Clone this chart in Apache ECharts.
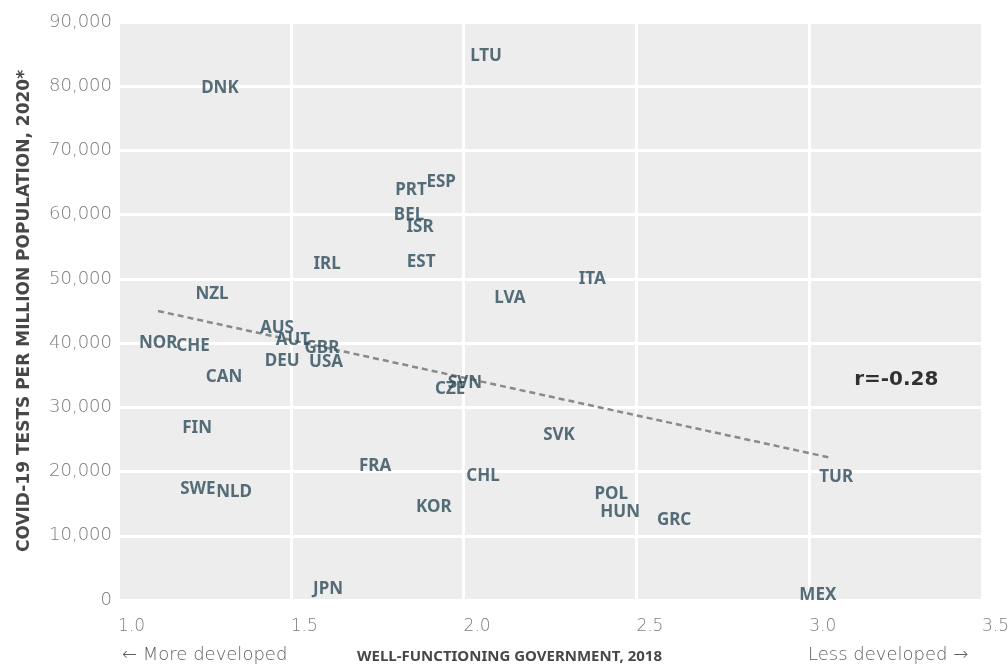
<!DOCTYPE html>
<html>
<head>
<meta charset="utf-8">
<script src="https://cdn.jsdelivr.net/npm/echarts@6/dist/echarts.min.js"></script>
<style>
    html, body { margin: 0; padding: 0; background: #fff; }
    #chart { width: 1008px; height: 666px; }
</style>
</head>
<body>
<div id="chart"></div>
<script>
// country codes and their values (x: government score, y: tests per million)
const countries = ['LTU', 'DNK', 'PRT', 'ESP', 'BEL', 'ISR', 'EST', 'IRL', 'ITA', 'NZL', 'LVA',
    'AUS', 'AUT', 'GBR', 'NOR', 'CHE', 'DEU', 'USA', 'CAN', 'SVN', 'CZE', 'FIN', 'SVK',
    'FRA', 'CHL', 'TUR', 'SWE', 'NLD', 'POL', 'HUN', 'KOR', 'GRC', 'JPN', 'MEX'];
const govScore = [2.065, 1.295, 1.848, 1.935, 1.842, 1.874, 1.877, 1.605, 2.372, 1.272, 2.134,
    1.460, 1.506, 1.590, 1.116, 1.217, 1.475, 1.602, 1.307, 2.004, 1.961, 1.229, 2.276,
    1.744, 2.056, 3.078, 1.231, 1.336, 2.427, 2.453, 1.914, 2.609, 1.608, 3.025];
const testsPerMillion = [84700, 79700, 63800, 65100, 59900, 58100, 52600, 52300, 50000, 47600, 47000,
    42300, 40500, 39200, 40000, 39500, 37200, 37000, 34700, 33800, 32900, 26800, 25700,
    20900, 19300, 19100, 17300, 16800, 16500, 13700, 14500, 12500, 1700, 800];

// fitted trend line end points
const trendX = [1.116, 3.066];
const trendY = [45000, 22100];

const correlationLabel = 'r=-0.28';
const correlationPos = [3.252, 34300];

const xTitle = 'WELL-FUNCTIONING GOVERNMENT, 2018';
const yTitle = 'COVID-19 TESTS PER MILLION POPULATION, 2020*';
const leftNote = '\u2190 More developed';
const rightNote = 'Less developed \u2192';

const labelColor = '#2d4b5a';
const tickColor = '#7c7c7c';
const font = 'Noto Sans';
const wideFont = 'DejaVu Sans';

const chart = echarts.init(document.getElementById('chart'));

chart.setOption({
    animation: false,
    textStyle: {fontFamily: font},
    grid: {
        left: 118, right: 26, top: 22, bottom: 66,
        outerBoundsMode: 'none', containLabel: false,
        show: true, backgroundColor: '#ecedec', borderWidth: 0
    },
    xAxis: {
        type: 'value', min: 1, max: 3.5, interval: 0.5,
        axisLine: {show: false}, axisTick: {show: false},
        splitLine: {lineStyle: {color: '#fff', width: 3}},
        axisLabel: {
            color: tickColor, fontSize: 17, fontWeight: 300, fontFamily: wideFont,
            margin: 18, align: 'left',
            formatter: v => v.toFixed(1)
        }
    },
    yAxis: {
        type: 'value', min: 0, max: 90000, interval: 10000,
        axisLine: {show: false}, axisTick: {show: false},
        splitLine: {lineStyle: {color: '#fff', width: 3}},
        axisLabel: {
            color: tickColor, fontSize: 18, fontWeight: 300, fontFamily: wideFont, margin: 6,
            formatter: v => v.toLocaleString('en-US')
        },
        name: yTitle, nameLocation: 'middle', nameGap: 85,
        nameTextStyle: {color: '#474747', fontSize: 17, fontWeight: 'bold', fontFamily: wideFont}
    },
    series: [
        {
            type: 'line',
            data: trendX.map((x, i) => [x, trendY[i]]),
            symbol: 'none',
            lineStyle: {color: '#8a8a8a', width: 2.5, type: [6, 4]},
            z: 2
        },
        {
            type: 'scatter',
            symbolSize: 0,
            data: countries.map((c, i) => ({name: c, value: [govScore[i], testsPerMillion[i]]})),
            label: {
                show: true, position: 'inside', formatter: '{b}',
                color: labelColor, fontSize: 17, fontWeight: 'bold', fontFamily: font
            },
            z: 3
        },
        {
            type: 'scatter',
            symbolSize: 0,
            data: [{name: correlationLabel, value: correlationPos}],
            label: {
                show: true, position: 'inside', formatter: '{b}',
                color: '#000', fontSize: 20, fontWeight: 'bold', fontFamily: wideFont
            }
        }
    ],
    graphic: [
        {
            type: 'text', left: 122, top: 646,
            style: {text: leftNote, fill: '#5e5e5e', font: '300 18px "' + wideFont + '"'}
        },
        {
            type: 'text', left: 357, top: 649,
            style: {text: xTitle, fill: '#474747', font: 'bold 15px "' + font + '"'}
        },
        {
            type: 'text', left: 808, top: 646,
            style: {text: rightNote, fill: '#5e5e5e', font: '300 18px "' + wideFont + '"'}
        }
    ]
});
</script>
</body>
</html>
